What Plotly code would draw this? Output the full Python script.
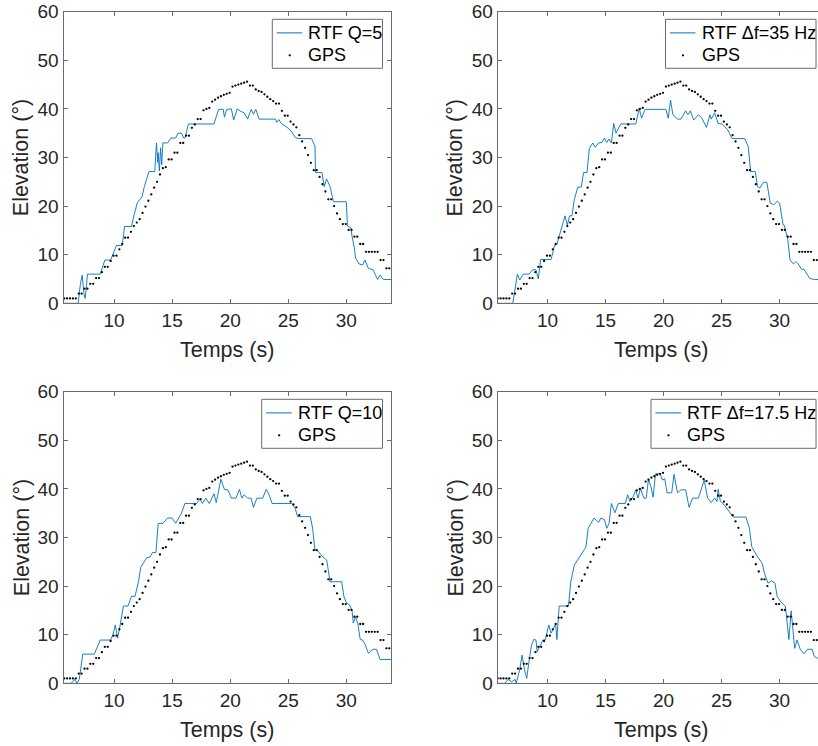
import plotly.graph_objects as go

# ---------------- data ----------------
gps_time = [5.70, 5.95, 6.20, 6.45, 6.70, 6.95, 7.20, 7.45, 7.70, 7.95, 8.20, 8.45, 8.70, 8.95,
            9.20, 9.45, 9.70, 9.95, 10.20, 10.45, 10.70, 10.95, 11.20, 11.45, 11.70, 11.95, 12.20,
            12.45, 12.70, 12.95, 13.20, 13.45, 13.70, 13.95, 14.20, 14.45, 14.70, 14.95, 15.20,
            15.45, 15.70, 15.95, 16.20, 16.45, 16.70, 16.95, 17.20, 17.45, 17.70, 17.95, 18.20,
            18.45, 18.70, 18.95, 19.20, 19.45, 19.70, 19.95, 20.20, 20.45, 20.70, 20.95, 21.20,
            21.45, 21.70, 21.95, 22.20, 22.45, 22.70, 22.95, 23.20, 23.45, 23.70, 23.95, 24.20,
            24.45, 24.70, 24.95, 25.20, 25.45, 25.70, 25.95, 26.20, 26.45, 26.70, 26.95, 27.20,
            27.45, 27.70, 27.95, 28.20, 28.45, 28.70, 28.95, 29.20, 29.45, 29.70, 29.95, 30.20,
            30.45, 30.70, 30.95, 31.20, 31.45, 31.70, 31.95, 32.20, 32.45, 32.70, 32.95, 33.20,
            33.45, 33.70]
gps_elev = [1, 1, 1, 1, 1, 2, 2, 3, 3, 4, 4, 5.2, 5.2, 6.4, 7.5, 7.5, 8.7, 9.8, 9.8, 11.1, 12.2,
            13.5, 13.5, 14.7, 15.9, 16.6, 17.3, 18.6, 19.9, 21.1, 22.4, 23.8, 25.0, 26.5, 27.8,
            28.0, 29.6, 29.6, 31.0, 31.0, 33.0, 33.0, 34.5, 34.5, 36.1, 36.8, 37.9, 37.9, 39.7,
            40.0, 40.2, 41.5, 41.9, 42.3, 42.6, 42.9, 43.1, 43.3, 44.6, 44.8, 45.0, 45.2, 45.4,
            45.6, 44.8, 44.8, 44.0, 43.7, 43.5, 43.0, 42.5, 42.0, 41.6, 41.1, 41.1, 39.6, 38.6,
            38.6, 37.4, 36.8, 36.2, 34.6, 33.3, 32.0, 30.5, 28.9, 27.4, 27.4, 26.0, 24.5, 23.0,
            21.4, 21.4, 20.0, 18.5, 17.3, 16.3, 16.3, 15.1, 15.1, 13.7, 13.7, 12.2, 12.2, 10.6,
            10.6, 10.6, 10.6, 10.6, 8.9, 8.9, 7.2, 7.2]

# RTF Q=5
q5_time = [5.64, 6.9, 7.1, 7.25, 7.4, 7.5, 7.6, 7.7, 8.8, 9.2, 9.7, 9.9, 10.2, 10.7, 10.9, 11.5,
           11.65, 12.0, 12.4, 12.6, 13.0, 13.5, 13.65, 13.75, 13.8, 13.9, 14.0, 14.1, 14.2, 14.6,
           14.9, 15.3, 15.5, 15.8, 16.0, 16.1, 16.4, 18.6, 19.0, 19.4, 19.5, 19.7, 20.1, 20.3,
           20.6, 20.9, 21.2, 21.5, 21.8, 22.0, 22.2, 22.5, 23.9, 24.0, 24.2, 24.4, 24.9, 25.3,
           25.6, 25.9, 27.0, 27.3, 27.35, 27.9, 28.1, 28.3, 28.6, 28.9, 30.0, 30.1, 30.4, 30.5,
           30.7, 30.8, 31.1, 31.4, 31.6, 31.9, 32.3, 32.7, 32.9, 33.2, 33.85]
q5_elev = [0, 0, 4, 5.8, 2, 1, 3, 6, 6, 8.9, 8.9, 10, 11.9, 11.9, 15.8, 15.8,
           17.5, 20.7, 21.9, 24, 27.1, 27.1, 33, 29, 31, 27.2, 32, 28.5, 33, 33,
           34, 34, 35, 35, 34, 34, 36.9, 36.9, 39.9, 39.9, 38.3, 39.9, 40, 37.7,
           40, 39.5, 39.2, 37.9, 39.9, 38.9, 39.9, 37.9, 37.9, 37.2, 37.8, 37.0, 36.2, 35.3,
           34.1, 33.9, 33.9, 32.4, 26.9, 26.9, 24.0, 25.6, 24.0, 20.9, 20.9, 15.9, 15.5, 13.7,
           11.3, 9.3, 8.1, 7.9, 8.9, 7.2, 6.9, 4.9, 5.8, 4.9, 4.9]

# RTF delta f = 35 Hz
d35_time = [5.70, 7.0, 7.4, 7.6, 7.9, 8.4, 8.7, 9.0, 9.2, 9.4, 10.3, 10.6, 10.8, 11.1, 11.3, 11.5,
            11.7, 11.9, 12.1, 12.3, 12.6, 12.9, 13.1, 13.4, 13.6, 13.9, 14.1, 14.4, 14.7, 14.9,
            15.1, 15.3, 15.5, 15.7, 15.9, 16.3, 17.6, 17.9, 18.1, 18.4, 20.2, 20.4, 20.6, 20.8,
            21.2, 21.5, 21.9, 22.1, 22.3, 22.6, 23.0, 23.3, 23.7, 24.0, 24.1, 24.4, 24.7, 25.0,
            25.5, 25.9, 27.0, 27.3, 27.5, 27.9, 28.1, 28.3, 28.6, 28.9, 29.2, 29.5, 29.8, 30.0,
            30.3, 30.4, 30.7, 30.9, 31.2, 31.4, 31.6, 31.9, 32.1, 32.4, 32.6, 33.0, 33.4]
d35_elev = [0, 0, 6, 4.8, 6, 6, 6.9, 6.9, 5, 9, 9, 11.9, 12.1, 14.8, 16.6, 18,
            16.1, 18, 18, 21.3, 23.9, 23.9, 26.9, 26.9, 31.9, 33, 32.1, 33, 33.1, 34,
            33.1, 33.8, 33, 37, 35, 36.9, 36.9, 40.1, 38.1, 39.9, 39.9, 38.1, 41.8, 38.8,
            37.9, 37.9, 39.6, 38.8, 39.6, 37.7, 38.8, 38.1, 36.2, 38.8, 37.9, 39.2, 37.0, 36.9,
            35.8, 33.9, 33.9, 32.2, 27.1, 27.1, 24.0, 23.7, 24.9, 24.9, 20.6, 20.3, 21.0, 20.6,
            16.1, 16.1, 13.2, 8.9, 8.1, 8.6, 8.1, 7.0, 7.0, 5.8, 5.1, 4.9, 4.9]

# RTF Q=10
q10_time = [5.64, 6.3, 6.6, 6.8, 7.0, 7.3, 8.3, 8.8, 9.7, 9.9, 10.1, 10.3, 10.5, 10.8, 11.2, 11.5,
            11.8, 12.1, 12.3, 12.6, 12.8, 13.1, 13.3, 13.6, 13.8, 14.2, 14.6, 15.0, 15.3, 15.8,
            16.1, 17.1, 17.4, 17.6, 17.9, 18.2, 18.6, 18.8, 19.2, 19.5, 19.8, 20.1, 20.5, 20.8,
            21.0, 21.2, 21.5, 21.8, 22.0, 22.3, 22.8, 23.1, 23.4, 23.6, 25.3, 25.6, 25.8, 26.9,
            27.1, 27.3, 27.5, 27.9, 28.3, 28.4, 28.6, 29.6, 29.8, 30.0, 30.3, 30.5, 30.6, 30.8,
            31.0, 31.2, 31.4, 31.6, 31.9, 32.3, 32.6, 32.9, 33.85]
q10_elev = [0, 0, 0.8, 0, 0.8, 6, 6, 8.9, 8.9, 10, 12, 9.3, 11.7, 15.9, 15.9, 17.9,
            17.9, 20.9, 23.9, 25.1, 25.8, 26, 26.9, 26.9, 32.9, 32.9, 34, 34, 32.9, 35,
            37, 37, 37.9, 37, 38.1, 37, 39, 37.2, 42, 39.9, 39.8, 38.1, 38.1, 39.9,
            38.1, 38.8, 38.1, 38.1, 36.2, 38.1, 38.1, 39.9, 38.5, 37, 37, 36, 34.3, 34.3,
            31.9, 27.4, 27.4, 26.2, 25.4, 24, 20.9, 20.9, 17.8, 16.6, 16.1, 14.8, 12.4, 13.7,
            12.2, 9, 8.9, 8.1, 6.2, 7, 7, 4.9, 4.9]

# RTF delta f = 17.5 Hz
d17_time = [5.70, 6.3, 6.6, 6.9, 7.2, 7.3, 7.6, 7.8, 8.0, 8.2, 8.4, 8.6, 8.8, 9.0, 9.1, 9.3,
            9.6, 9.8, 10.1, 10.3, 10.5, 10.7, 10.8, 11.0, 11.8, 12.0, 12.3, 12.8, 13.3, 13.5,
            14.0, 14.4, 14.6, 14.9, 15.1, 15.3, 15.5, 15.8, 16.1, 16.7, 16.9, 17.1, 17.4, 17.6,
            17.8, 18.0, 18.3, 18.5, 18.7, 18.9, 19.1, 19.3, 19.7, 19.9, 20.1, 20.3, 20.7, 20.9,
            21.2, 21.5, 21.9, 22.2, 22.5, 23.0, 23.2, 23.5, 23.8, 24.1, 24.4, 24.6, 24.7, 24.9,
            25.2, 25.5, 26.0, 27.1, 27.4, 27.6, 28.0, 28.5, 28.7, 29.0, 29.3, 29.6, 29.8, 30.2,
            30.5, 30.6, 30.8, 31.0, 31.1, 31.3, 31.5, 31.8, 32.1, 32.4, 32.8, 33.0, 33.4]
d17_elev = [0, 0, 0.8, 0.3, 0.8, 0, 2.9, 5.8, 2.9, 1, 4.5, 7.7, 9, 8.9, 6.5, 7.5,
            8.9, 8.9, 12, 10.3, 11.1, 12.2, 9, 15.9, 15.9, 20.9, 24.3, 26.3, 28, 31.9,
            34, 33.1, 34, 33.7, 31.9, 32.9, 37, 35.1, 37, 37, 38.8, 37.4, 38.5, 39.8,
            38.1, 40.1, 38.1, 38.1, 42, 40.5, 38.3, 43.1, 43.1, 41.8, 42.1, 39.2, 39.2, 43,
            39.2, 39.8, 39.8, 36.2, 38.1, 38.1, 39.8, 41.8, 38.1, 37.2, 38.1, 37.4, 39.9, 37.4,
            36.8, 35.9, 34.2, 34.2, 31.9, 28.1, 26.4, 24.7, 22.6, 20.6, 21.1, 20.6, 17.8, 16.5,
            15.8, 13.6, 9, 14.9, 12.5, 7.2, 8.9, 6.9, 6.1, 7, 7, 5.5, 5.0]

series_names = ["RTF Q=5", "RTF \u0394f=35 Hz", "RTF Q=10", "RTF \u0394f=17.5 Hz"]
gps_name = "GPS"
x_ticks = [10, 15, 20, 25, 30]
y_ticks = [0, 10, 20, 30, 40, 50, 60]
x_title = "Temps (s)"
y_title = "Elevation (\u00b0)"

# ---------------- style / layout ----------------
W, H = 818, 746
FONT = "Liberation Sans, Arial, Helvetica, sans-serif"
TXT = "#262626"
AX = "#6b6b6b"
BLUE = "#0072BD"

# panel geometry in pixels
cols = [(63.5, 391.0, 5.64, 33.85), (497.7, 818.0, 5.70, 33.31)]
rows = [(11.7, 303.3), (391.7, 683.3)]
# legend boxes (left, right) in pixels, per panel
legend_boxes = [(272.3, 382.5), (665.5, 816.0), (261.7, 382.5), (651.0, 816.0)]

panels = [
    (q5_time, q5_elev, 0, 0),
    (d35_time, d35_elev, 0, 1),
    (q10_time, q10_elev, 1, 0),
    (d17_time, d17_elev, 1, 1),
]


def px(x):
    return x / W


def py(y):
    return 1 - y / H


fig = go.Figure()
layout = dict(width=W, height=H, margin=dict(l=0, r=0, t=0, b=0, autoexpand=False),
              paper_bgcolor="white", plot_bgcolor="white", showlegend=False,
              font=dict(family=FONT, color=TXT))
annotations = []
shapes = []

for k, (tt, yy, r, c) in enumerate(panels):
    n = "" if k == 0 else str(k + 1)
    fig.add_trace(go.Scatter(x=tt, y=yy, mode="lines", name=series_names[k],
                             line=dict(color=BLUE, width=0.9),
                             xaxis="x" + n, yaxis="y" + n))
    fig.add_trace(go.Scatter(x=gps_time, y=gps_elev, mode="markers", name=gps_name,
                             marker=dict(color="black", size=2.3),
                             xaxis="x" + n, yaxis="y" + n))
    x0, x1, r0, r1 = cols[c]
    ytop, ybot = rows[r]
    layout["xaxis" + n] = dict(domain=[px(x0), px(x1)], range=[r0, r1], anchor="y" + n,
                               tickvals=x_ticks, ticks="inside", ticklen=4, tickwidth=1,
                               tickcolor=AX, showline=True, linecolor=AX, linewidth=1,
                               mirror="ticks", showgrid=False, zeroline=False,
                               tickfont=dict(size=19, color=TXT, family=FONT))
    layout["yaxis" + n] = dict(domain=[py(ybot), py(ytop)], range=[0, 60],
                               anchor="x" + n, tickvals=y_ticks, ticks="inside", ticklen=4,
                               tickwidth=1, tickcolor=AX, showline=True, linecolor=AX,
                               linewidth=1, mirror=("ticks" if c == 0 else False),
                               showgrid=False, zeroline=False,
                               tickfont=dict(size=19, color=TXT, family=FONT))

    # ---- legend box (MATLAB style) ----
    bl, br = legend_boxes[k]
    bt, bb = ytop + 7.6, ytop + 56.6
    row1, row2 = bt + 13.6, bt + 36.0
    shapes.append(dict(type="rect", xref="paper", yref="paper", x0=px(bl), x1=px(br),
                       y0=py(bb), y1=py(bt), line=dict(color=AX, width=1),
                       fillcolor="white", layer="above"))
    shapes.append(dict(type="line", xref="paper", yref="paper", x0=px(bl + 4.5),
                       x1=px(bl + 30), y0=py(row1), y1=py(row1),
                       line=dict(color=BLUE, width=1), layer="above"))
    shapes.append(dict(type="circle", xref="paper", yref="paper", x0=px(bl + 16.3),
                       x1=px(bl + 18.6), y0=py(row2 + 1.15), y1=py(row2 - 1.15),
                       line=dict(width=0), fillcolor="black", layer="above"))
    for label, ry in ((series_names[k], row1), (gps_name, row2)):
        annotations.append(dict(text=label, x=px(bl + 34.0), y=py(ry), xref="paper",
                                yref="paper", xanchor="left", yanchor="middle",
                                showarrow=False,
                                font=dict(size=18, color="black", family=FONT)))

    # ---- axis titles ----
    annotations.append(dict(text=y_title, x=px(x0 - 41.8), y=py((ytop + ybot) / 2),
                            xref="paper", yref="paper", xanchor="center", yanchor="middle",
                            textangle=-90, showarrow=False,
                            font=dict(size=21.5, color=TXT, family=FONT)))
    xc = (x0 + (391.0 if c == 0 else 824.0)) / 2
    annotations.append(dict(text=x_title, x=px(xc), y=py(ybot + 46.5),
                            xref="paper", yref="paper", xanchor="center", yanchor="middle",
                            showarrow=False, font=dict(size=21.5, color=TXT, family=FONT)))

layout["annotations"] = annotations
layout["shapes"] = shapes
fig.update_layout(**layout)
fig.write_html("out.html", config={"displayModeBar": False},
               post_script="document.body.style.margin='0';document.body.style.padding='0';")
